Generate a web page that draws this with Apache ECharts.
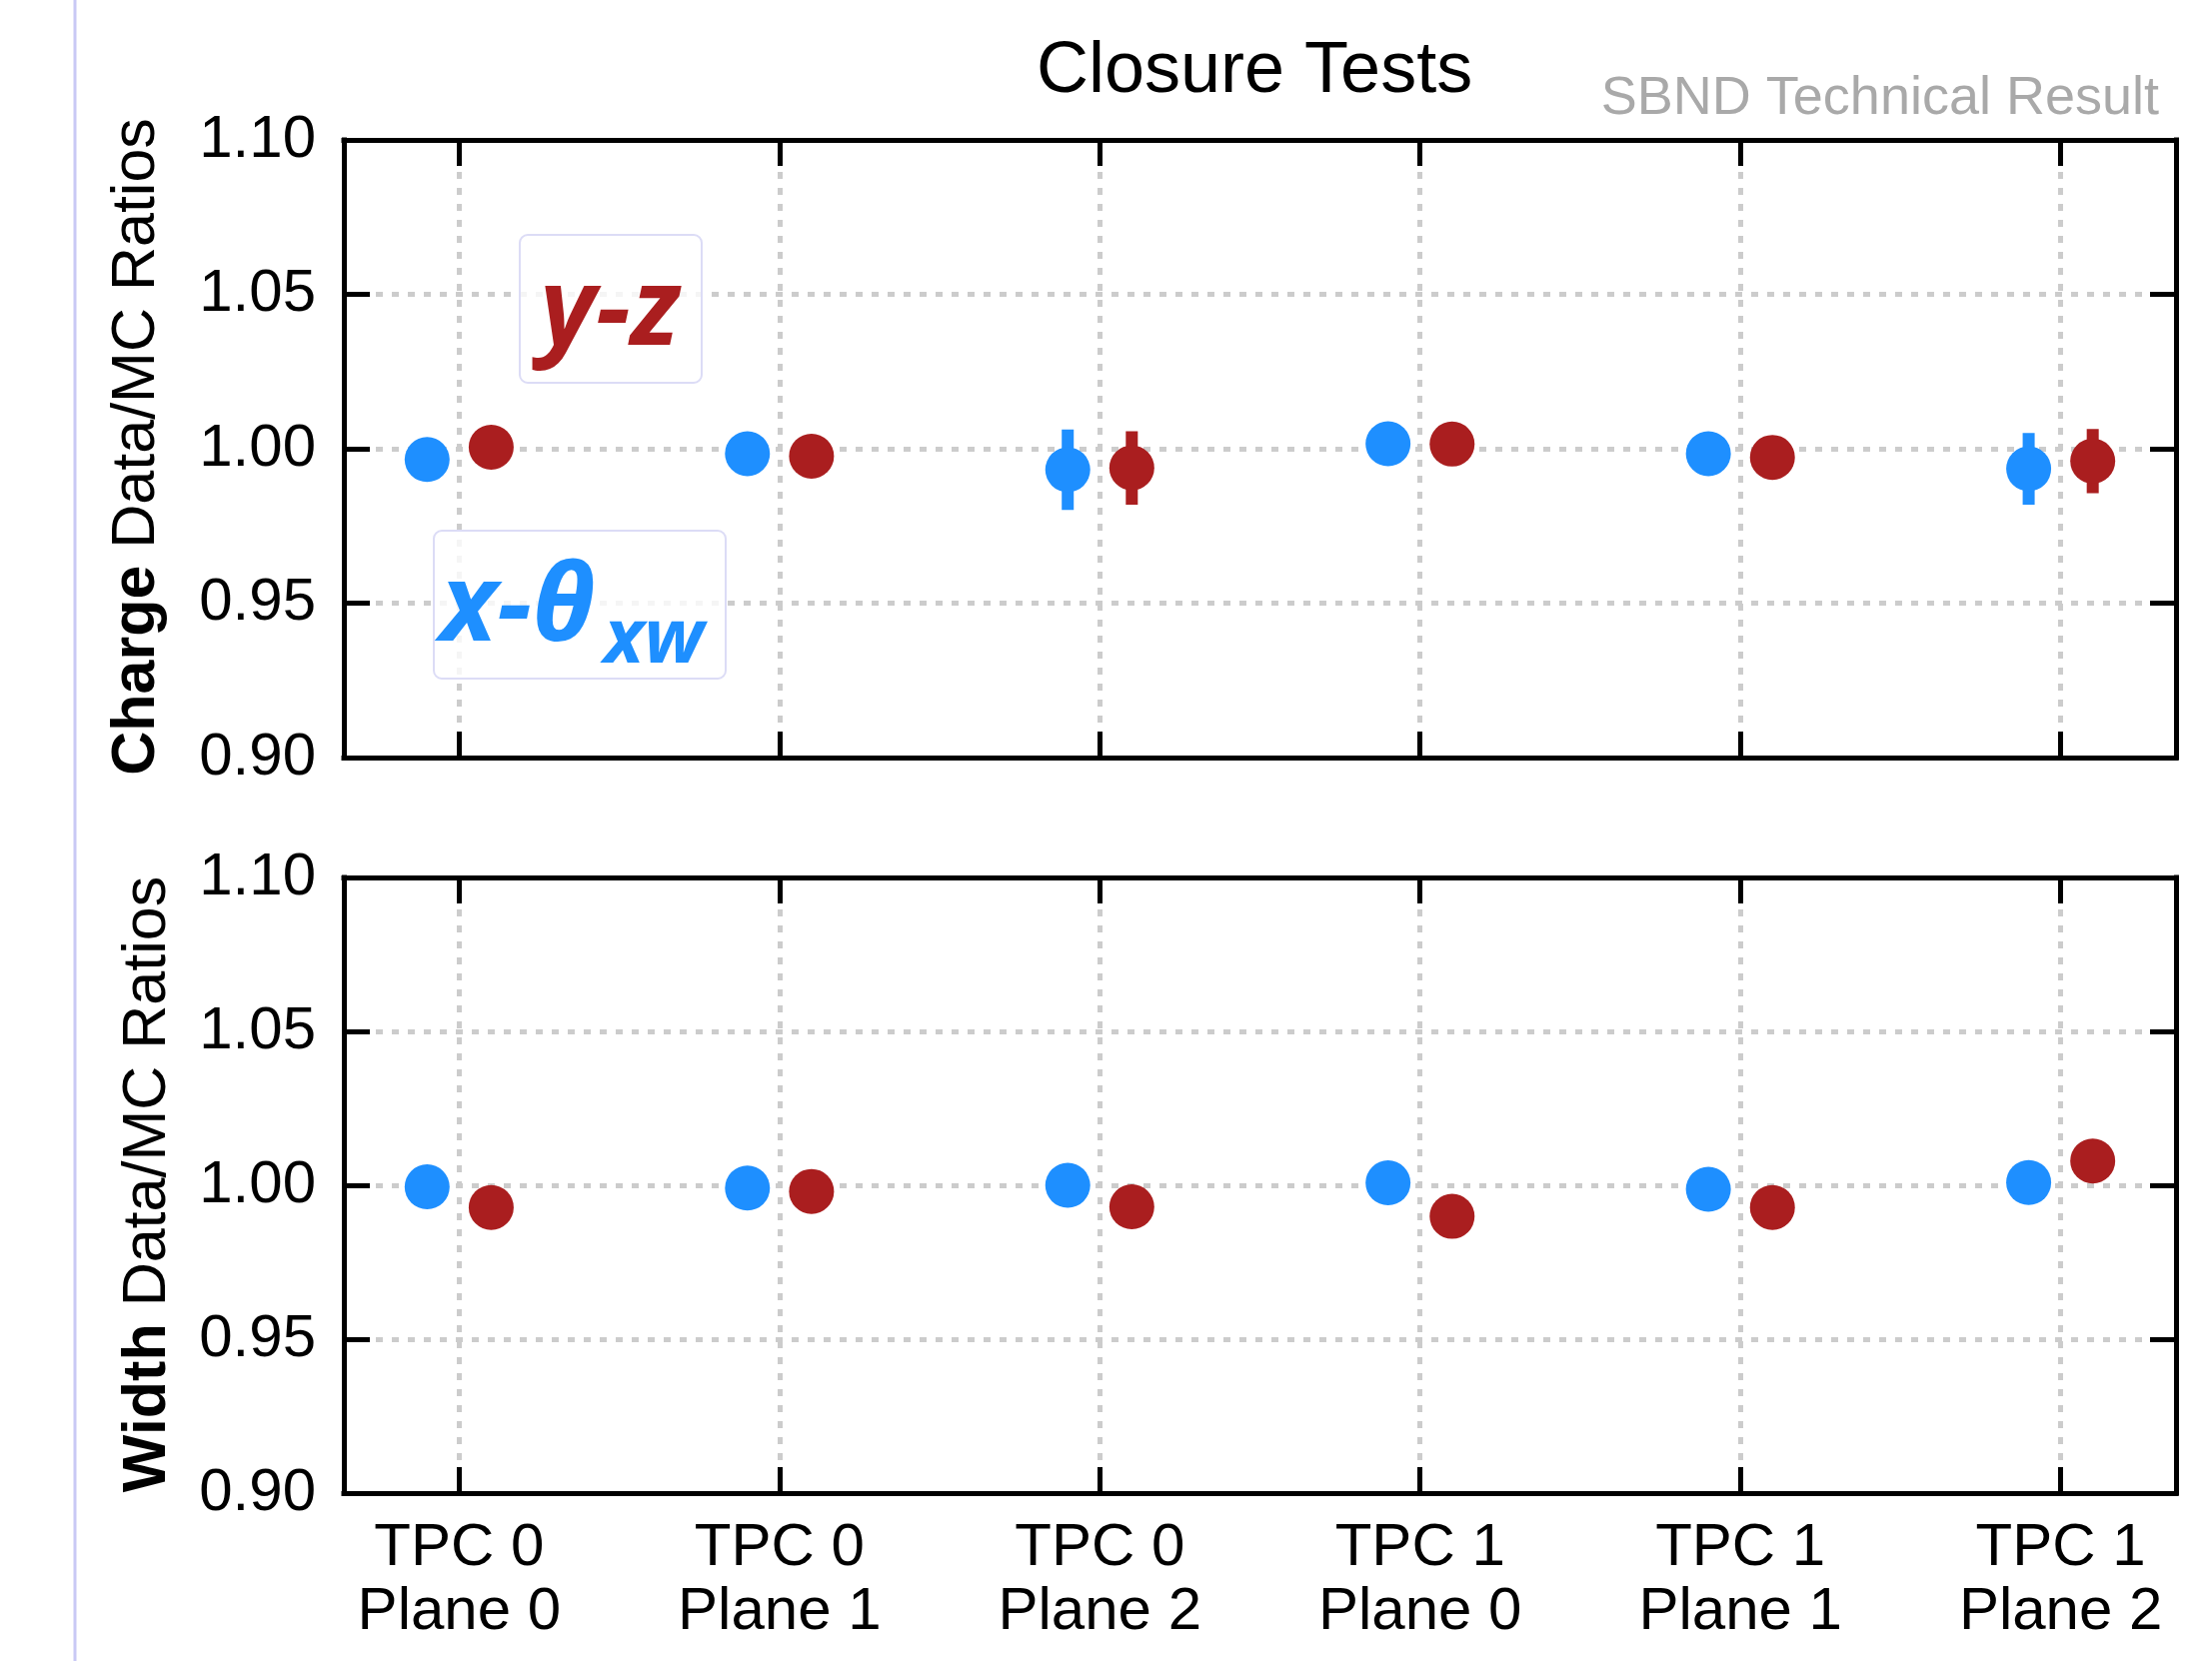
<!DOCTYPE html>
<html>
<head>
<meta charset="utf-8">
<script src="https://cdn.jsdelivr.net/npm/echarts@6/dist/echarts.min.js"></script>
<style>
html,body{margin:0;padding:0;background:#fff;}
#chart{width:2213px;height:1662px;}
</style>
</head>
<body>
<div id="chart"></div>
<script>
// ---- data ----
const categories = ['TPC 0\nPlane 0', 'TPC 0\nPlane 1', 'TPC 0\nPlane 2', 'TPC 1\nPlane 0', 'TPC 1\nPlane 1', 'TPC 1\nPlane 2'];
const catPositions = [0, 1, 2, 3, 4, 5];
const yTicks = [0.90, 0.95, 1.00, 1.05, 1.10];

const chargeXTheta    = [0.9965, 0.9984, 0.9932, 1.0016, 0.9984, 0.9935];
const chargeXThetaErr = [0.004, 0.004, 0.0130, 0.004, 0.004, 0.0116];
const chargeYZ        = [1.0005, 0.9976, 0.9938, 1.0015, 0.9972, 0.9960];
const chargeYZErr     = [0.004, 0.004, 0.0119, 0.004, 0.004, 0.0104];

const widthXTheta     = [0.9995, 0.9991, 1.0000, 1.0008, 0.9987, 1.0009];
const widthYZ         = [0.9928, 0.9980, 0.9930, 0.9899, 0.9928, 1.0079];

// ---- styling ----
const BLUE = '#1E8FFF';
const RED = '#AA1E1F';
const FONT = '"Liberation Sans", Arial, Helvetica, sans-serif';
const OFFSET = 0.1;

function pts(vals, off) { return vals.map((v, i) => [catPositions[i] + off, v]); }
function errs(vals, e, off) { return vals.map((v, i) => [catPositions[i] + off, v - e[i], v + e[i]]); }

const axisLineStyle = { color: '#000', width: 5, cap: 'square' };
const gridLineStyle = { color: '#cccccc', width: 5, type: [7, 9] };

function xAxisFor(gridIndex, position, showLabels) {
  return {
    type: 'value', gridIndex: gridIndex, position: position, min: -0.36, max: 5.36,
    axisLine: { show: true, onZero: false, lineStyle: axisLineStyle },
    axisTick: { show: true, inside: true, length: 26, customValues: catPositions, lineStyle: { color: '#000', width: 5 } },
    axisLabel: {
      show: showLabels, customValues: catPositions,
      formatter: v => categories[Math.round(v)],
      fontFamily: FONT, fontSize: 60, lineHeight: 64, color: '#000', margin: 23
    },
    splitLine: { show: position === 'bottom', lineStyle: gridLineStyle }
  };
}
function yAxisFor(gridIndex, position, showLabels) {
  return {
    type: 'value', gridIndex: gridIndex, position: position, min: 0.9, max: 1.1,
    axisLine: { show: true, onZero: false, lineStyle: axisLineStyle },
    axisTick: { show: true, inside: true, length: 26, customValues: yTicks, lineStyle: { color: '#000', width: 5 } },
    axisLabel: {
      show: showLabels, customValues: yTicks,
      formatter: v => Number(v).toFixed(2),
      fontFamily: FONT, fontSize: 60, color: '#000', margin: 28
    },
    splitLine: { show: position === 'left', lineStyle: gridLineStyle }
  };
}

function scatter(name, xi, yi, data, color) {
  return {
    name: name, type: 'scatter', xAxisIndex: xi, yAxisIndex: yi, data: data,
    symbol: 'circle', symbolSize: 45, itemStyle: { color: color, opacity: 1 }, z: 4
  };
}
function errorBars(xi, yi, data, color) {
  return {
    type: 'custom', xAxisIndex: xi, yAxisIndex: yi, data: data, z: 3,
    encode: { x: 0, y: [1, 2] },
    renderItem: function (params, api) {
      const x = api.value(0), lo = api.value(1), hi = api.value(2);
      const p1 = api.coord([x, hi]), p2 = api.coord([x, lo]);
      return { type: 'rect', shape: { x: p1[0] - 6, y: p1[1], width: 12, height: p2[1] - p1[1] }, style: { fill: color } };
    }
  };
}

const chart = echarts.init(document.getElementById('chart'), null, { renderer: 'canvas' });

const option = {
  animation: false,
  backgroundColor: '#fff',
  title: [
    { text: 'Closure Tests', left: 1037, top: 36, padding: 0,
      textStyle: { fontFamily: FONT, fontSize: 72, fontWeight: 'normal', color: '#000' } },
    { text: 'SBND Technical Result', right: 53, top: 72, padding: 0,
      textStyle: { fontFamily: FONT, fontSize: 54, fontWeight: 'normal', color: '#a9a9a9' } }
  ],
  grid: [
    { left: 344, right: 36, top: 140, height: 618, containLabel: false },
    { left: 344, right: 36, top: 878, height: 616, containLabel: false }
  ],
  xAxis: [
    xAxisFor(0, 'bottom', false),
    xAxisFor(0, 'top', false),
    xAxisFor(1, 'bottom', true),
    xAxisFor(1, 'top', false)
  ],
  yAxis: [
    yAxisFor(0, 'left', true),
    yAxisFor(0, 'right', false),
    yAxisFor(1, 'left', true),
    yAxisFor(1, 'right', false)
  ],
  series: [
    errorBars(0, 0, errs(chargeXTheta, chargeXThetaErr, -OFFSET), BLUE),
    errorBars(0, 0, errs(chargeYZ, chargeYZErr, OFFSET), RED),
    scatter('x-θxw charge', 0, 0, pts(chargeXTheta, -OFFSET), BLUE),
    scatter('y-z charge', 0, 0, pts(chargeYZ, OFFSET), RED),
    scatter('x-θxw width', 2, 2, pts(widthXTheta, -OFFSET), BLUE),
    scatter('y-z width', 2, 2, pts(widthYZ, OFFSET), RED)
  ],
  graphic: [
    { type: 'line', shape: { x1: 75, y1: 0, x2: 75, y2: 1662 }, style: { stroke: '#c9c9f5', lineWidth: 3 }, z: 1 },
    { type: 'text', x: 137, y: 447, rotation: Math.PI / 2, z: 10,
      style: { text: '{b|Charge} Data/MC Ratios', fontFamily: FONT, fontSize: 61, fill: '#000', align: 'center', verticalAlign: 'middle',
        rich: { b: { fontFamily: FONT, fontSize: 61, fontWeight: 'bold', fill: '#000' } } } },
    { type: 'text', x: 148, y: 1185, rotation: Math.PI / 2, z: 10,
      style: { text: '{b|Width} Data/MC Ratios', fontFamily: FONT, fontSize: 61, fill: '#000', align: 'center', verticalAlign: 'middle',
        rich: { b: { fontFamily: FONT, fontSize: 61, fontWeight: 'bold', fill: '#000' } } } },
    { type: 'rect', z: 10, shape: { x: 520, y: 235, width: 182, height: 148, r: 8 },
      style: { fill: 'rgba(255,255,255,0.8)', stroke: '#dcdcf6', lineWidth: 2 } },
    { type: 'text', x: 610, y: 314, z: 11,
      style: { text: 'y-z', font: 'italic bold 108px "Open Sans"', fill: RED, align: 'center', verticalAlign: 'middle' } },
    { type: 'rect', z: 10, shape: { x: 434, y: 531, width: 292, height: 148, r: 8 },
      style: { fill: 'rgba(255,255,255,0.8)', stroke: '#dcdcf6', lineWidth: 2 } },
    { type: 'text', x: 440, y: 610, z: 11,
      style: { text: 'x-θ', font: 'italic bold 108px "Open Sans"', fill: BLUE, align: 'left', verticalAlign: 'middle' } },
    { type: 'text', x: 604, y: 641, z: 11,
      style: { text: 'xw', font: 'italic bold 76px "Open Sans"', fill: BLUE, align: 'left', verticalAlign: 'middle' } }
  ]
};
chart.setOption(option);
</script>
</body>
</html>
